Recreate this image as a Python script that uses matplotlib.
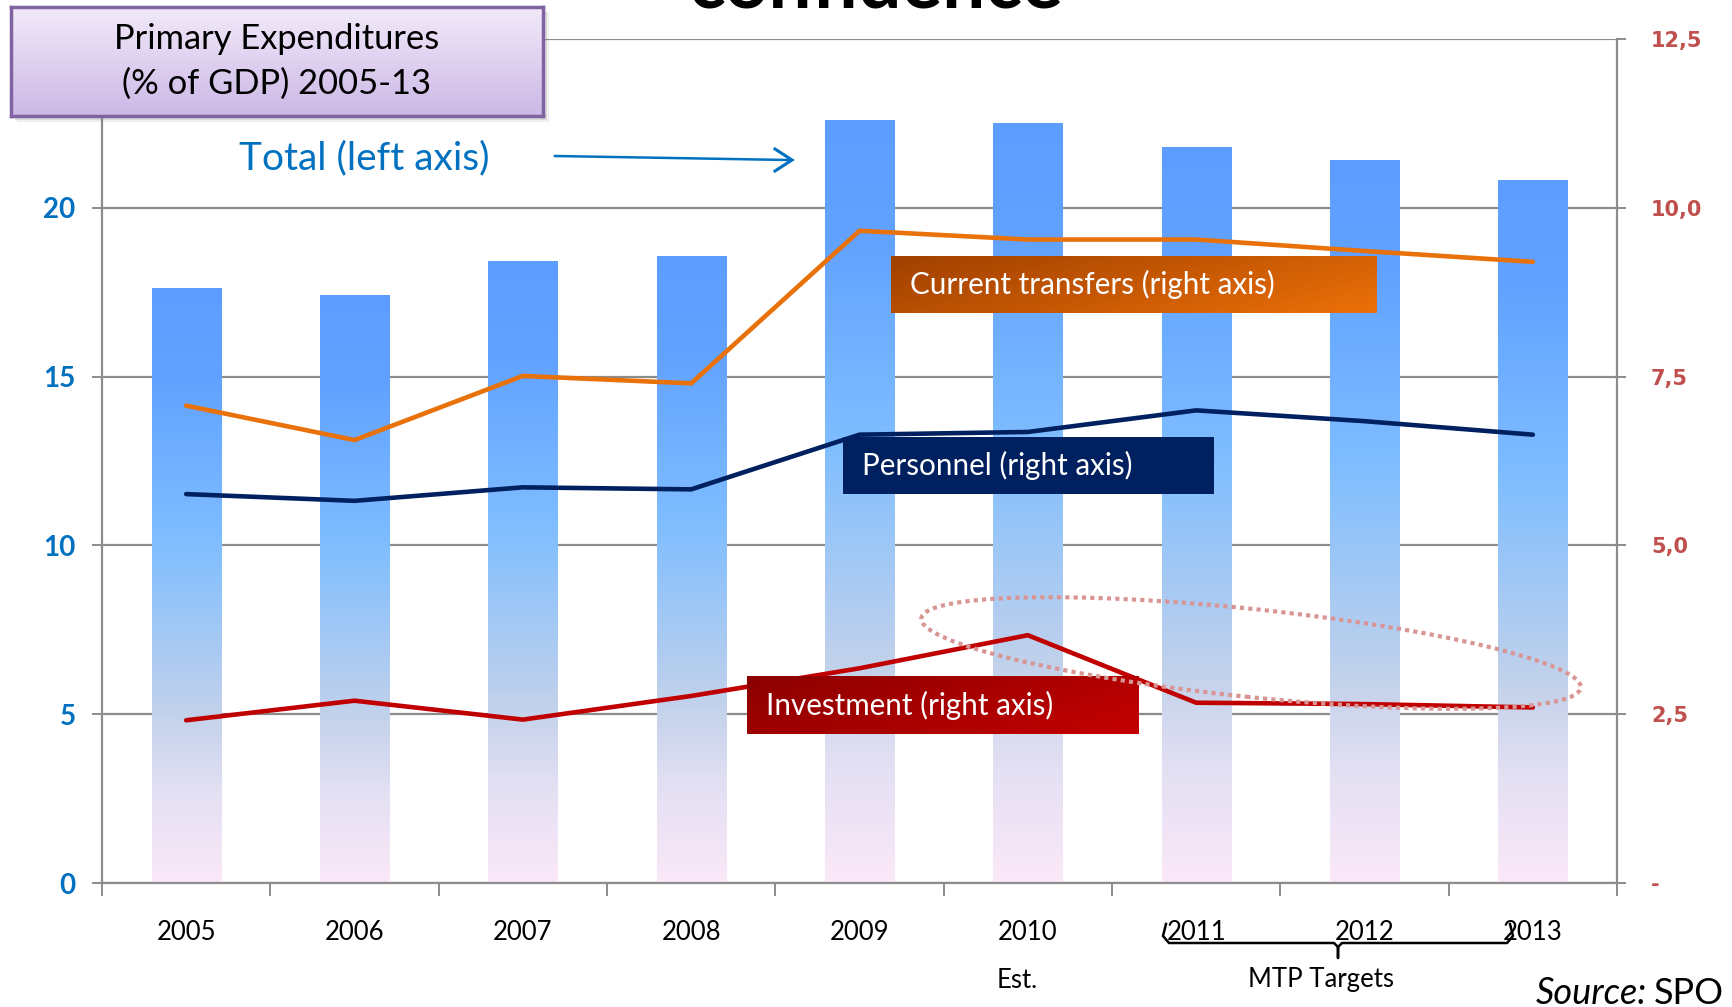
import numpy as np
import matplotlib
matplotlib.use("Agg")
import matplotlib.pyplot as plt
from matplotlib.colors import LinearSegmentedColormap
from matplotlib.patches import Ellipse, Rectangle
from matplotlib.lines import Line2D

# data (% of GDP)
years = ['2005', '2006', '2007', '2008', '2009', '2010', '2011', '2012', '2013']
total = [17.6, 17.4, 18.4, 18.55, 22.6, 22.5, 21.8, 21.4, 20.8]          # left axis
current_transfers = [7.07, 6.56, 7.51, 7.40, 9.66, 9.53, 9.53, 9.36, 9.20]  # right axis
personnel = [5.76, 5.66, 5.86, 5.83, 6.64, 6.68, 7.00, 6.84, 6.64]
investment = [2.41, 2.70, 2.42, 2.77, 3.18, 3.67, 2.67, 2.65, 2.60]

W, H = 1733, 1007
GRAY = '#8c8c8c'
BLUE = '#0070C0'
plt.rcParams['font.family'] = ['Lato', 'DejaVu Sans']

fig = plt.figure(figsize=(W / 100, H / 100), dpi=100)


def fx(x):
    return x / W


def fy(y):
    return 1 - y / H


ax = fig.add_axes([fx(102), fy(883), fx(1617) - fx(102), fy(39) - fy(883)])
x = np.arange(len(years))

# bars with vertical gradient
bar_cmap = LinearSegmentedColormap.from_list('bars', [
    (0.0, (250/255, 232/255, 248/255)),
    (0.15, (228/255, 224/255, 243/255)),
    (0.28, (195/255, 210/255, 235/255)),
    (0.57, (128/255, 190/255, 255/255)),
    (0.85, (97/255, 162/255, 255/255)),
    (1.0, (93/255, 157/255, 255/255))])
grad = np.linspace(0, 1, 256).reshape(-1, 1)
bars = ax.bar(x, total, width=0.41, color='none', edgecolor='none', zorder=2)
for b in bars:
    ax.imshow(grad, extent=[b.get_x(), b.get_x() + b.get_width(), 0, b.get_height()],
              origin='lower', aspect='auto', cmap=bar_cmap, zorder=2, interpolation='bilinear')

ax.set_xlim(-0.5, 8.5)
ax.set_ylim(0, 25)
ax.set_yticks([0, 5, 10, 15, 20, 25])
ax.set_yticklabels(['0', '5', '10', '15', '20', '25'])
ax.set_axisbelow(True)
ax.yaxis.grid(True, color=GRAY, lw=1.6)
ax.set_xticks(x)
ax.set_xticklabels(years)
ax.set_xticks(np.arange(-0.5, 9, 1), minor=True)
ax.tick_params(axis='x', which='major', length=0, pad=27, labelsize=18.5)
ax.tick_params(axis='x', which='minor', length=9, width=1.4, color=GRAY, direction='out')
ax.tick_params(axis='y', length=7, width=1.4, color=GRAY, pad=12, labelsize=20, labelcolor=BLUE)
for lab in ax.get_yticklabels():
    lab.set_fontweight('bold')
ax.spines['top'].set_visible(False)
ax.spines['right'].set_visible(False)
for s in ['left', 'bottom']:
    ax.spines[s].set_color(GRAY)
    ax.spines[s].set_linewidth(1.6)

# lines on the right axis
ax2 = ax.twinx()
ax2.set_ylim(0, 12.5)
ax2.plot(x, current_transfers, color='#E8710A', lw=3.3, solid_capstyle='round', zorder=3)
ax2.plot(x, personnel, color='#002060', lw=3.3, solid_capstyle='round', zorder=3)
ax2.plot(x, investment, color='#C00000', lw=3.3, solid_capstyle='round', zorder=3)
rticks = [0, 2.5, 5, 7.5, 10, 12.5]
ax2.set_yticks(rticks)
ax2.set_yticklabels(['-' if v == 0 else f'{v:.1f}'.replace('.', ',') for v in rticks],
                    family='DejaVu Sans', fontweight='bold', fontsize=15, color='#C0504D')
ax2.tick_params(axis='y', length=6.5, width=1.4, color=GRAY, pad=18)
for s in ['top', 'left', 'bottom']:
    ax2.spines[s].set_visible(False)
ax2.spines['right'].set_color(GRAY)
ax2.spines['right'].set_linewidth(1.6)


def grad_box(x0, y0, x1, y1, c0, c1, text, diag=True):
    bax = fig.add_axes([fx(x0), fy(y1), fx(x1) - fx(x0), fy(y0) - fy(y1)], zorder=5)
    gx, gy = np.meshgrid(np.linspace(0, 1, 200), np.linspace(0, 1, 40))
    t = (gx * 0.7 + gy * 0.3) if diag else gx
    c0, c1 = np.array(c0) / 255, np.array(c1) / 255
    img = c0[None, None, :] * (1 - t[..., None]) + c1[None, None, :] * t[..., None]
    bax.imshow(img, aspect='auto', extent=[0, 1, 0, 1], origin='upper')
    bax.set_axis_off()
    bax.text(19 / (x1 - x0), 0.5, text, color='white', fontsize=21.3,
             ha='left', va='center', transform=bax.transAxes)


grad_box(891, 256, 1377, 313, (160, 64, 0), (236, 112, 8), 'Current transfers (right axis)')
grad_box(843, 437, 1214, 494, (0, 32, 96), (0, 32, 96), 'Personnel (right axis)')
grad_box(747, 676, 1138, 734, (140, 0, 0), (196, 0, 0), 'Investment (right axis)')

# title box with soft shadow
for i, a in enumerate([0.12, 0.18, 0.25]):
    d = 6 - 2 * i
    sh = fig.add_axes([fx(11 + d), fy(116 + d), fx(543) - fx(11), fy(7) - fy(116)], zorder=5)
    sh.add_patch(Rectangle((0, 0), 1, 1, transform=sh.transAxes, color='#888888', alpha=a))
    sh.set_axis_off()
tb = fig.add_axes([fx(11), fy(116), fx(543) - fx(11), fy(7) - fy(116)], zorder=6)
tg = np.linspace(0, 1, 100).reshape(-1, 1)
top_c = np.array([242, 234, 250]) / 255
bot_c = np.array([204, 184, 230]) / 255
timg = top_c[None, None, :] * (1 - tg[..., None]) + bot_c[None, None, :] * tg[..., None]
tb.imshow(timg, aspect='auto', extent=[0, 1, 0, 1], origin='upper')
tb.set_xticks([])
tb.set_yticks([])
for s in tb.spines.values():
    s.set_color('#8064A2')
    s.set_linewidth(2.5)
tb.text(0.5, 0.5, 'Primary Expenditures\n(% of GDP) 2005-13', ha='center', va='center',
        fontsize=24.8, linespacing=1.45, transform=tb.transAxes)

# cut-off heading at the top
fig.text(fx(876), fy(8), 'confidence', ha='center', va='baseline', fontsize=55,
         fontweight='bold', color='black')

# total label and arrow
fig.text(fx(364), fy(158), 'Total (left axis)', color=BLUE, fontsize=28, ha='center', va='center')
fig.add_artist(Line2D([fx(555), fx(788)], [fy(156), fy(160)], color=BLUE, lw=1.8,
                      transform=fig.transFigure))
fig.add_artist(Line2D([fx(775), fx(792), fx(775)], [fy(149), fy(160), fy(171)], color=BLUE,
                      lw=2.2, transform=fig.transFigure, solid_joinstyle='miter'))

# dotted ellipse around the targets
fig.add_artist(Ellipse((12.51, 3.54), 6.63, 0.88, angle=-6, transform=fig.dpi_scale_trans,
                       fill=False, edgecolor='#D99594', lw=3.0, linestyle=(0, (1, 1)), zorder=7))

# bracket for MTP targets
bx0, bx1, bxm, by = 1163, 1513, 1338, 943
fig.add_artist(Line2D([fx(bx0 + 3), fx(bx0), fx(bx0 + 6), fx(bxm - 4), fx(bxm), fx(bxm), fx(bxm),
                       fx(bxm + 4), fx(bx1 - 6), fx(bx1), fx(bx1 - 3)],
                      [fy(924), fy(936), fy(by), fy(by), fy(by + 4), fy(958), fy(by + 4),
                       fy(by), fy(by), fy(936), fy(924)],
                      color='black', lw=1.8, transform=fig.transFigure))
fig.text(fx(1321), fy(980), 'MTP Targets', fontsize=18.5, ha='center', va='center')
fig.text(fx(1017), fy(980), 'Est.', fontsize=18.5, ha='center', va='center')

# source note: place italic part left of the upright part
spo = fig.text(fx(1724), fy(993), 'SPO', fontsize=26, ha='right', va='center')
fig.canvas.draw()
bb = spo.get_window_extent()
fig.text((bb.x0 - 7) / W, fy(993), 'Source:', fontsize=26, ha='right', va='center', style='italic')

fig.savefig('out.png', dpi=100)
